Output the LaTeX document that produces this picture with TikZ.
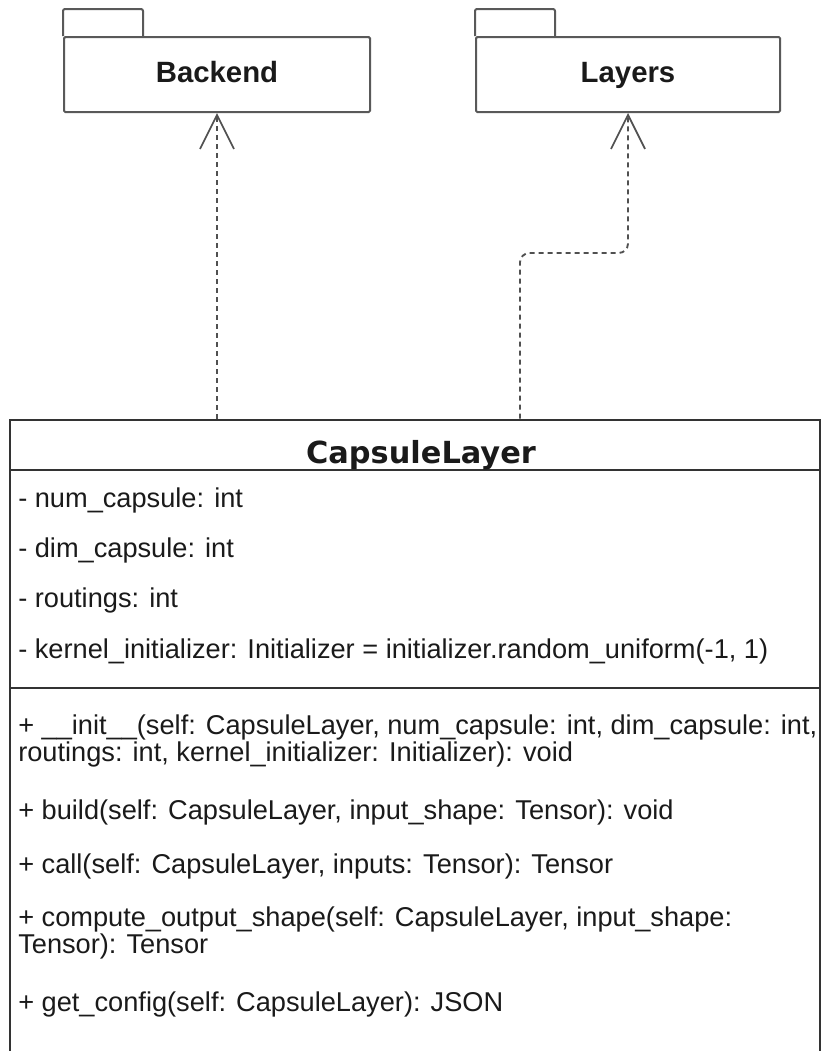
\documentclass[tikz,border=0pt]{standalone}
\usepackage{fontspec}
\setmainfont{Liberation Sans}
\newfontfamily\titlefont{DejaVu Sans}
\usetikzlibrary{arrows.meta}

\definecolor{pkgline}{HTML}{595959}
\definecolor{boxline}{HTML}{333333}
\definecolor{depline}{HTML}{505050}
\definecolor{ink}{HTML}{1A1A1A}

\begin{document}
\begin{tikzpicture}[x=0.75pt,y=-0.75pt,
  pkgbody/.style={draw=pkgline, line width=1.5pt, rounded corners=1pt,
    minimum height=56.25pt, inner sep=0pt},
  pkglabel/.style={inner sep=0pt, anchor=base, text=ink,
    font=\fontsize{22pt}{26pt}\selectfont\bfseries},
  pkgtab/.style={draw=pkgline, line width=1.5pt, rounded corners=1.5pt},
  classbox/.style={draw=boxline, line width=1.5pt, inner sep=0pt,
    minimum width=607.5pt, minimum height=480.75pt},
  sepline/.style={draw=boxline, line width=1.5pt},
  classtitle/.style={inner sep=0pt, anchor=base, text=ink,
    font=\titlefont\bfseries\fontsize{22.8pt}{26pt}\selectfont},
  member/.style={inner sep=0pt, anchor=base west, text=ink,
    font=\fontsize{20.4pt}{20.25pt}\selectfont},
  dep/.style={draw=depline, line width=1.4pt, dash pattern=on 3.75pt off 3pt,
    -{Straight Barb[length=25.5pt, width=25.5pt, line width=1.3pt]}},
]
\useasboundingbox (0,0) rectangle (821,1051);

% packages
\node[pkgbody, minimum width=229.5pt] (bk) at (217,74.5) {};
\node[pkgbody, minimum width=228pt] (ly) at (628,74.5) {};
\node[pkglabel] (bkname) at ([yshift=-6pt]bk.center) {Backend};
\node[pkglabel] (lyname) at ([yshift=-6pt]ly.center) {Layers};
\draw[pkgtab] (bk.north west) -- ++(0,-27) -- ++(80,0) -- ++(0,27);
\draw[pkgtab] (ly.north west) -- ++(0,-27) -- ++(80,0) -- ++(0,27);

% class box (its lower edge runs past the page)
\node[classbox] (cls) at (415,740) {};
\coordinate (s1) at (0,470);
\coordinate (s2) at (0,688);
\draw[sepline] (cls.west |- s1) -- (cls.east |- s1);
\draw[sepline] (cls.west |- s2) -- (cls.east |- s2);

\node[classtitle] (title) at (421,463) {CapsuleLayer};

% attributes
\node[member] (a1) at (18,507) {- num\_capsule: int};
\node[member] (a2) at (18,557) {- dim\_capsule: int};
\node[member] (a3) at (18,607) {- routings: int};
\node[member] (a4) at (18,658) {- kernel\_initializer: Initializer = initializer.random\_uniform(-1, 1)};

% operations
\node[member] (m1) at (18,734) {+ \_\_init\_\_(self: CapsuleLayer, num\_capsule: int, dim\_capsule: int,};
\node[member] (m1b) at (18,761) {routings: int, kernel\_initializer: Initializer): void};
\node[member] (m2) at (18,819) {+ build(self: CapsuleLayer, input\_shape: Tensor): void};
\node[member] (m3) at (18,873) {+ call(self: CapsuleLayer, inputs: Tensor): Tensor};
\node[member] (m4) at (18,926) {+ compute\_output\_shape(self: CapsuleLayer, input\_shape:};
\node[member] (m4b) at (18,953) {Tensor): Tensor};
\node[member] (m5) at (18,1011) {+ get\_config(self: CapsuleLayer): JSON};

% dependencies
\coordinate (bend) at (0,253);
\coordinate (lyfoot) at (520,0);
\draw[dep] (cls.north -| bk.south) -- (bk.south);
\draw[dep, rounded corners=7pt] (cls.north -| lyfoot) |- (ly.south |- bend) -- (ly.south);
\end{tikzpicture}
\end{document}
